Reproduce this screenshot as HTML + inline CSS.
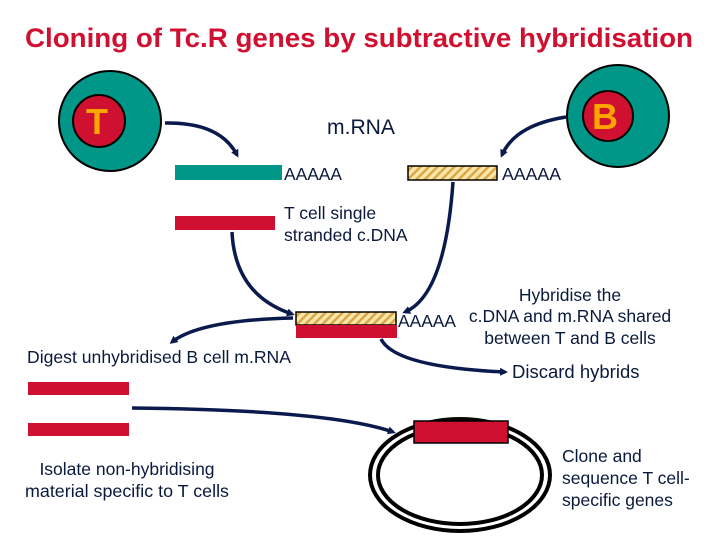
<!DOCTYPE html>
<html><head><meta charset="utf-8"><style>
body{margin:0;background:#fff;}
svg{display:block;}
text{font-family:"Liberation Sans",Arial,sans-serif;fill:#0a1a3c;}
</style></head><body>
<svg width="720" height="540" viewBox="0 0 720 540">
<defs>
<pattern id="h" width="6" height="6" patternUnits="userSpaceOnUse" patternTransform="rotate(45)">
<rect width="6" height="6" fill="#fbe7a8"/><rect width="2.5" height="6" fill="#d9a64a"/>
</pattern>
<marker id="a" markerWidth="8" markerHeight="8" refX="5" refY="4" orient="auto" markerUnits="userSpaceOnUse" viewBox="0 0 8 8">
<path d="M0,0 L8,4 L0,8 z" fill="#0a1a4c"/>
</marker>
</defs>
<text x="25" y="47" font-size="27" font-weight="bold" textLength="668" lengthAdjust="spacingAndGlyphs" style="fill:#d01030">Cloning of Tc.R genes by subtractive hybridisation</text>

<ellipse cx="110" cy="121" rx="51" ry="50" fill="#009688" stroke="#000" stroke-width="2"/>
<circle cx="99" cy="121" r="26" fill="#d01030" stroke="#000" stroke-width="2"/>
<text x="97" y="134" text-anchor="middle" font-size="36" font-weight="bold" style="fill:#ffa500">T</text>

<ellipse cx="618" cy="116" rx="51" ry="51" fill="#009688" stroke="#000" stroke-width="2"/>
<circle cx="608" cy="116" r="25" fill="#d01030" stroke="#000" stroke-width="2"/>
<text x="605" y="129" text-anchor="middle" font-size="36" font-weight="bold" style="fill:#ffa500">B</text>

<text x="327" y="134" font-size="21" textLength="68" lengthAdjust="spacingAndGlyphs">m.RNA</text>

<rect x="175" y="165" width="107" height="15" fill="#009688"/>
<text x="284" y="180" font-size="17.5" textLength="58" lengthAdjust="spacingAndGlyphs">AAAAA</text>
<rect x="408" y="166" width="89" height="14" fill="url(#h)" stroke="#000" stroke-width="1.5"/>
<text x="502" y="180" font-size="17.5" textLength="59" lengthAdjust="spacingAndGlyphs">AAAAA</text>

<rect x="175" y="216" width="100" height="14" fill="#d01030"/>
<text x="284" y="219" font-size="17.5">T cell single</text>
<text x="284" y="241" font-size="17.5">stranded c.DNA</text>

<g fill="none" stroke="#0a1a4c" stroke-width="3.5">
<path d="M165,123 Q220,122 237,155" marker-end="url(#a)"/>
<path d="M566,117 Q515,125 502,155" marker-end="url(#a)"/>
<path d="M232,232 Q235,295 292,314" marker-end="url(#a)"/>
<path d="M453,182 Q445,295 405,312" marker-end="url(#a)"/>
<path d="M293,318 Q200,320 172,342" marker-end="url(#a)"/>
<path d="M381,339 Q395,367 505,372" marker-end="url(#a)"/>
<path d="M132,408 Q330,410 393,432" marker-end="url(#a)"/>
</g>

<rect x="296" y="312" width="100" height="13" fill="url(#h)" stroke="#000" stroke-width="1.5"/>
<rect x="296" y="325" width="101" height="13" fill="#d01030"/>
<text x="398" y="327" font-size="17.5" textLength="58" lengthAdjust="spacingAndGlyphs">AAAAA</text>

<text x="570" y="301" text-anchor="middle" font-size="17.5">Hybridise the</text>
<text x="570" y="322" text-anchor="middle" font-size="17.5">c.DNA and m.RNA shared</text>
<text x="570" y="344" text-anchor="middle" font-size="17.5">between T and B cells</text>
<text x="512" y="378" font-size="18.5">Discard hybrids</text>

<text x="27" y="363" font-size="17.5" textLength="264" lengthAdjust="spacingAndGlyphs">Digest unhybridised B cell m.RNA</text>
<rect x="28" y="382" width="101" height="13" fill="#d01030"/>
<rect x="28" y="423" width="101" height="13" fill="#d01030"/>
<text x="127" y="475" text-anchor="middle" font-size="17.5">Isolate non-hybridising</text>
<text x="127" y="497" text-anchor="middle" font-size="17.5" textLength="204" lengthAdjust="spacingAndGlyphs">material specific to T cells</text>

<ellipse cx="460" cy="475" rx="90" ry="56" fill="none" stroke="#000" stroke-width="4"/>
<ellipse cx="460" cy="475" rx="82" ry="49" fill="none" stroke="#000" stroke-width="4"/>
<rect x="414" y="421" width="94" height="22" fill="#d01030" stroke="#000" stroke-width="1.5"/>

<text x="562" y="462" font-size="17.5">Clone and</text>
<text x="562" y="484" font-size="17.5">sequence T cell-</text>
<text x="562" y="506" font-size="17.5">specific genes</text>
</svg>
</body></html>
